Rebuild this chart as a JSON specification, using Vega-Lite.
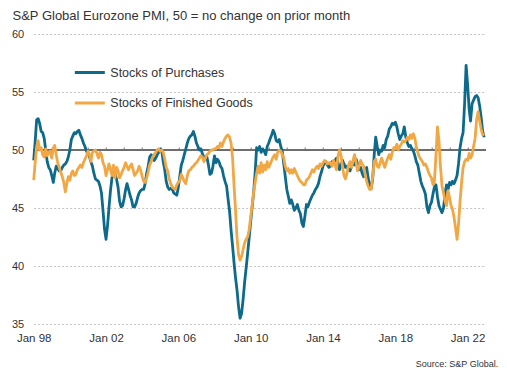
{
"$schema": "https://vega.github.io/schema/vega-lite/v6.json",
"width": 452, "height": 290,
"autosize": {"type": "none"},
"padding": {"left": 33.7, "top": 34, "right": 21.3, "bottom": 48},
"background": "white",
"config": {"view": {"stroke": null}, "font": "Liberation Sans"},
"data": {"values": [
{"date":"1998-01","purchases":49.1,"finished":47.4},{"date":"1998-02","purchases":50.8,"finished":49.0},{"date":"1998-03","purchases":52.6,"finished":50.3},{"date":"1998-04","purchases":52.7,"finished":50.8},{"date":"1998-05","purchases":52.3,"finished":50.0},{"date":"1998-06","purchases":51.6,"finished":50.2},{"date":"1998-07","purchases":51.5,"finished":49.6},{"date":"1998-08","purchases":51.0,"finished":49.4},{"date":"1998-09","purchases":50.0,"finished":50.1},{"date":"1998-10","purchases":49.0,"finished":49.5},{"date":"1998-11","purchases":48.5,"finished":49.8},{"date":"1998-12","purchases":48.3,"finished":49.9},
{"date":"1999-01","purchases":47.8,"finished":49.3},{"date":"1999-02","purchases":47.2,"finished":50.1},{"date":"1999-03","purchases":48.0,"finished":50.4},{"date":"1999-04","purchases":48.6,"finished":49.6},{"date":"1999-05","purchases":48.4,"finished":48.9},{"date":"1999-06","purchases":48.2,"finished":48.5},{"date":"1999-07","purchases":48.2,"finished":48.1},{"date":"1999-08","purchases":48.5,"finished":47.7},{"date":"1999-09","purchases":48.7,"finished":47.2},{"date":"1999-10","purchases":48.8,"finished":46.4},{"date":"1999-11","purchases":49.0,"finished":47.1},{"date":"1999-12","purchases":49.4,"finished":47.7},
{"date":"2000-01","purchases":50.0,"finished":47.4},{"date":"2000-02","purchases":50.9,"finished":48.0},{"date":"2000-03","purchases":51.2,"finished":48.2},{"date":"2000-04","purchases":51.5,"finished":47.8},{"date":"2000-05","purchases":51.4,"finished":47.9},{"date":"2000-06","purchases":51.6,"finished":48.3},{"date":"2000-07","purchases":51.7,"finished":48.5},{"date":"2000-08","purchases":51.3,"finished":48.7},{"date":"2000-09","purchases":51.0,"finished":48.5},{"date":"2000-10","purchases":50.6,"finished":48.9},{"date":"2000-11","purchases":50.3,"finished":49.2},{"date":"2000-12","purchases":49.9,"finished":49.5},
{"date":"2001-01","purchases":49.7,"finished":49.9},{"date":"2001-02","purchases":49.4,"finished":49.6},{"date":"2001-03","purchases":49.0,"finished":49.0},{"date":"2001-04","purchases":48.6,"finished":49.8},{"date":"2001-05","purchases":48.0,"finished":49.9},{"date":"2001-06","purchases":47.5,"finished":50.0},{"date":"2001-07","purchases":47.4,"finished":49.7},{"date":"2001-08","purchases":47.3,"finished":49.3},{"date":"2001-09","purchases":46.9,"finished":49.8},{"date":"2001-10","purchases":46.3,"finished":49.6},{"date":"2001-11","purchases":44.8,"finished":48.9},{"date":"2001-12","purchases":43.2,"finished":48.6},
{"date":"2002-01","purchases":42.3,"finished":47.8},{"date":"2002-02","purchases":43.5,"finished":48.3},{"date":"2002-03","purchases":45.0,"finished":48.8},{"date":"2002-04","purchases":46.5,"finished":48.3},{"date":"2002-05","purchases":47.6,"finished":47.8},{"date":"2002-06","purchases":48.2,"finished":48.7},{"date":"2002-07","purchases":48.0,"finished":47.6},{"date":"2002-08","purchases":47.5,"finished":48.5},{"date":"2002-09","purchases":46.8,"finished":48.2},{"date":"2002-10","purchases":45.6,"finished":47.6},{"date":"2002-11","purchases":45.1,"finished":47.9},{"date":"2002-12","purchases":45.2,"finished":48.2},
{"date":"2003-01","purchases":45.8,"finished":48.5},{"date":"2003-02","purchases":46.6,"finished":48.9},{"date":"2003-03","purchases":47.1,"finished":48.6},{"date":"2003-04","purchases":46.6,"finished":48.3},{"date":"2003-05","purchases":46.1,"finished":48.6},{"date":"2003-06","purchases":45.7,"finished":48.8},{"date":"2003-07","purchases":45.1,"finished":48.3},{"date":"2003-08","purchases":45.1,"finished":47.8},{"date":"2003-09","purchases":45.4,"finished":48.0},{"date":"2003-10","purchases":45.9,"finished":48.2},{"date":"2003-11","purchases":46.3,"finished":48.6},{"date":"2003-12","purchases":46.5,"finished":48.3},
{"date":"2004-01","purchases":46.6,"finished":47.7},{"date":"2004-02","purchases":46.6,"finished":47.3},{"date":"2004-03","purchases":47.1,"finished":47.2},{"date":"2004-04","purchases":48.0,"finished":47.6},{"date":"2004-05","purchases":48.6,"finished":48.1},{"date":"2004-06","purchases":49.4,"finished":48.7},{"date":"2004-07","purchases":49.6,"finished":49.0},{"date":"2004-08","purchases":49.4,"finished":49.4},{"date":"2004-09","purchases":49.1,"finished":49.6},{"date":"2004-10","purchases":49.3,"finished":49.8},{"date":"2004-11","purchases":49.6,"finished":50.0},{"date":"2004-12","purchases":49.8,"finished":50.1},
{"date":"2005-01","purchases":50.1,"finished":49.9},{"date":"2005-02","purchases":49.9,"finished":50.0},{"date":"2005-03","purchases":49.0,"finished":49.8},{"date":"2005-04","purchases":48.3,"finished":49.2},{"date":"2005-05","purchases":47.3,"finished":48.5},{"date":"2005-06","purchases":46.8,"finished":48.2},{"date":"2005-07","purchases":46.6,"finished":47.5},{"date":"2005-08","purchases":46.7,"finished":47.1},{"date":"2005-09","purchases":46.6,"finished":46.8},{"date":"2005-10","purchases":46.3,"finished":46.7},{"date":"2005-11","purchases":46.2,"finished":46.6},{"date":"2005-12","purchases":46.1,"finished":47.0},
{"date":"2006-01","purchases":46.8,"finished":47.2},{"date":"2006-02","purchases":47.8,"finished":47.4},{"date":"2006-03","purchases":48.7,"finished":47.9},{"date":"2006-04","purchases":49.1,"finished":47.6},{"date":"2006-05","purchases":49.6,"finished":47.3},{"date":"2006-06","purchases":50.1,"finished":47.1},{"date":"2006-07","purchases":50.6,"finished":47.8},{"date":"2006-08","purchases":51.0,"finished":48.2},{"date":"2006-09","purchases":51.2,"finished":48.3},{"date":"2006-10","purchases":51.3,"finished":48.5},{"date":"2006-11","purchases":51.6,"finished":48.6},{"date":"2006-12","purchases":51.2,"finished":48.8},
{"date":"2007-01","purchases":50.6,"finished":48.9},{"date":"2007-02","purchases":50.3,"finished":49.1},{"date":"2007-03","purchases":50.0,"finished":49.3},{"date":"2007-04","purchases":50.1,"finished":49.5},{"date":"2007-05","purchases":49.7,"finished":49.4},{"date":"2007-06","purchases":49.4,"finished":49.0},{"date":"2007-07","purchases":49.2,"finished":49.3},{"date":"2007-08","purchases":49.4,"finished":49.6},{"date":"2007-09","purchases":48.7,"finished":49.7},{"date":"2007-10","purchases":47.9,"finished":49.9},{"date":"2007-11","purchases":48.0,"finished":50.0},{"date":"2007-12","purchases":48.6,"finished":50.0},
{"date":"2008-01","purchases":49.5,"finished":50.1},{"date":"2008-02","purchases":48.9,"finished":50.1},{"date":"2008-03","purchases":49.2,"finished":50.3},{"date":"2008-04","purchases":49.0,"finished":50.2},{"date":"2008-05","purchases":48.6,"finished":50.6},{"date":"2008-06","purchases":48.4,"finished":50.3},{"date":"2008-07","purchases":47.8,"finished":50.7},{"date":"2008-08","purchases":47.3,"finished":51.0},{"date":"2008-09","purchases":46.9,"finished":51.2},{"date":"2008-10","purchases":45.8,"finished":51.3},{"date":"2008-11","purchases":44.7,"finished":51.1},{"date":"2008-12","purchases":43.1,"finished":50.6},
{"date":"2009-01","purchases":41.7,"finished":49.3},{"date":"2009-02","purchases":40.2,"finished":46.8},{"date":"2009-03","purchases":39.0,"finished":44.8},{"date":"2009-04","purchases":37.9,"finished":42.4},{"date":"2009-05","purchases":36.5,"finished":41.0},{"date":"2009-06","purchases":35.5,"finished":40.5},{"date":"2009-07","purchases":35.9,"finished":40.8},{"date":"2009-08","purchases":37.1,"finished":41.4},{"date":"2009-09","purchases":38.6,"finished":42.0},{"date":"2009-10","purchases":39.8,"finished":42.3},{"date":"2009-11","purchases":41.1,"finished":42.5},{"date":"2009-12","purchases":42.4,"finished":43.1},
{"date":"2010-01","purchases":43.8,"finished":44.2},{"date":"2010-02","purchases":45.1,"finished":45.3},{"date":"2010-03","purchases":46.3,"finished":46.3},{"date":"2010-04","purchases":48.0,"finished":47.2},{"date":"2010-05","purchases":50.2,"finished":48.0},{"date":"2010-06","purchases":50.0,"finished":48.6},{"date":"2010-07","purchases":50.3,"finished":48.0},{"date":"2010-08","purchases":49.8,"finished":48.9},{"date":"2010-09","purchases":50.1,"finished":48.1},{"date":"2010-10","purchases":49.9,"finished":48.7},{"date":"2010-11","purchases":49.6,"finished":48.3},{"date":"2010-12","purchases":50.3,"finished":49.0},
{"date":"2011-01","purchases":50.6,"finished":48.5},{"date":"2011-02","purchases":51.0,"finished":48.8},{"date":"2011-03","purchases":51.3,"finished":49.1},{"date":"2011-04","purchases":51.7,"finished":49.4},{"date":"2011-05","purchases":51.4,"finished":49.6},{"date":"2011-06","purchases":50.8,"finished":49.2},{"date":"2011-07","purchases":50.7,"finished":49.8},{"date":"2011-08","purchases":50.9,"finished":50.0},{"date":"2011-09","purchases":50.3,"finished":49.9},{"date":"2011-10","purchases":49.9,"finished":49.6},{"date":"2011-11","purchases":48.8,"finished":49.3},{"date":"2011-12","purchases":47.7,"finished":48.6},
{"date":"2012-01","purchases":46.6,"finished":48.2},{"date":"2012-02","purchases":46.0,"finished":48.4},{"date":"2012-03","purchases":45.4,"finished":48.0},{"date":"2012-04","purchases":45.7,"finished":48.3},{"date":"2012-05","purchases":45.3,"finished":48.0},{"date":"2012-06","purchases":44.8,"finished":48.4},{"date":"2012-07","purchases":45.0,"finished":48.1},{"date":"2012-08","purchases":45.3,"finished":47.8},{"date":"2012-09","purchases":44.8,"finished":47.5},{"date":"2012-10","purchases":44.5,"finished":47.3},{"date":"2012-11","purchases":43.7,"finished":47.2},{"date":"2012-12","purchases":43.4,"finished":47.0},
{"date":"2013-01","purchases":44.3,"finished":47.0},{"date":"2013-02","purchases":45.3,"finished":47.4},{"date":"2013-03","purchases":45.1,"finished":47.5},{"date":"2013-04","purchases":45.5,"finished":47.7},{"date":"2013-05","purchases":45.8,"finished":48.0},{"date":"2013-06","purchases":46.1,"finished":48.3},{"date":"2013-07","purchases":46.3,"finished":48.1},{"date":"2013-08","purchases":46.6,"finished":48.4},{"date":"2013-09","purchases":46.8,"finished":48.6},{"date":"2013-10","purchases":47.1,"finished":48.4},{"date":"2013-11","purchases":47.7,"finished":48.8},{"date":"2013-12","purchases":48.1,"finished":48.6},
{"date":"2014-01","purchases":48.6,"finished":48.9},{"date":"2014-02","purchases":48.9,"finished":49.1},{"date":"2014-03","purchases":49.0,"finished":49.0},{"date":"2014-04","purchases":48.7,"finished":48.8},{"date":"2014-05","purchases":48.5,"finished":48.9},{"date":"2014-06","purchases":48.6,"finished":48.9},{"date":"2014-07","purchases":49.0,"finished":48.6},{"date":"2014-08","purchases":48.9,"finished":49.1},{"date":"2014-09","purchases":49.1,"finished":48.7},{"date":"2014-10","purchases":49.3,"finished":48.3},{"date":"2014-11","purchases":48.9,"finished":49.5},{"date":"2014-12","purchases":48.3,"finished":50.0},
{"date":"2015-01","purchases":48.7,"finished":49.5},{"date":"2015-02","purchases":49.1,"finished":48.5},{"date":"2015-03","purchases":48.8,"finished":47.8},{"date":"2015-04","purchases":48.5,"finished":47.5},{"date":"2015-05","purchases":48.6,"finished":48.0},{"date":"2015-06","purchases":48.3,"finished":48.7},{"date":"2015-07","purchases":48.2,"finished":49.0},{"date":"2015-08","purchases":48.6,"finished":48.5},{"date":"2015-09","purchases":48.9,"finished":49.1},{"date":"2015-10","purchases":48.7,"finished":49.6},{"date":"2015-11","purchases":49.2,"finished":48.9},{"date":"2015-12","purchases":48.8,"finished":48.2},
{"date":"2016-01","purchases":48.3,"finished":48.6},{"date":"2016-02","purchases":48.5,"finished":49.1},{"date":"2016-03","purchases":48.0,"finished":48.8},{"date":"2016-04","purchases":47.7,"finished":48.6},{"date":"2016-05","purchases":48.3,"finished":47.9},{"date":"2016-06","purchases":48.5,"finished":47.3},{"date":"2016-07","purchases":47.6,"finished":46.9},{"date":"2016-08","purchases":47.0,"finished":46.6},{"date":"2016-09","purchases":46.7,"finished":46.6},{"date":"2016-10","purchases":47.5,"finished":47.7},{"date":"2016-11","purchases":49.6,"finished":49.0},{"date":"2016-12","purchases":51.1,"finished":49.2},
{"date":"2017-01","purchases":50.3,"finished":48.6},{"date":"2017-02","purchases":49.6,"finished":48.5},{"date":"2017-03","purchases":50.0,"finished":48.9},{"date":"2017-04","purchases":49.9,"finished":49.3},{"date":"2017-05","purchases":50.4,"finished":48.9},{"date":"2017-06","purchases":50.2,"finished":48.5},{"date":"2017-07","purchases":50.9,"finished":48.9},{"date":"2017-08","purchases":51.2,"finished":49.3},{"date":"2017-09","purchases":51.8,"finished":49.6},{"date":"2017-10","purchases":52.0,"finished":49.2},{"date":"2017-11","purchases":52.3,"finished":49.8},{"date":"2017-12","purchases":52.2,"finished":50.2},
{"date":"2018-01","purchases":52.4,"finished":50.1},{"date":"2018-02","purchases":52.0,"finished":50.5},{"date":"2018-03","purchases":51.4,"finished":50.0},{"date":"2018-04","purchases":50.9,"finished":50.3},{"date":"2018-05","purchases":51.2,"finished":50.5},{"date":"2018-06","purchases":51.4,"finished":50.8},{"date":"2018-07","purchases":52.0,"finished":50.7},{"date":"2018-08","purchases":51.1,"finished":50.8},{"date":"2018-09","purchases":50.6,"finished":51.1},{"date":"2018-10","purchases":50.3,"finished":50.9},{"date":"2018-11","purchases":50.4,"finished":51.3},{"date":"2018-12","purchases":50.1,"finished":51.0},
{"date":"2019-01","purchases":49.9,"finished":51.4},{"date":"2019-02","purchases":49.5,"finished":51.0},{"date":"2019-03","purchases":49.0,"finished":50.3},{"date":"2019-04","purchases":48.7,"finished":49.8},{"date":"2019-05","purchases":48.0,"finished":49.4},{"date":"2019-06","purchases":47.3,"finished":49.2},{"date":"2019-07","purchases":46.9,"finished":49.0},{"date":"2019-08","purchases":46.6,"finished":48.7},{"date":"2019-09","purchases":46.2,"finished":48.8},{"date":"2019-10","purchases":45.1,"finished":48.5},{"date":"2019-11","purchases":44.6,"finished":48.1},{"date":"2019-12","purchases":45.2,"finished":47.8},
{"date":"2020-01","purchases":45.5,"finished":47.6},{"date":"2020-02","purchases":46.2,"finished":47.0},{"date":"2020-03","purchases":46.8,"finished":47.3},{"date":"2020-04","purchases":47.0,"finished":49.5},{"date":"2020-05","purchases":46.0,"finished":52.0},{"date":"2020-06","purchases":45.2,"finished":50.8},{"date":"2020-07","purchases":44.9,"finished":48.6},{"date":"2020-08","purchases":44.6,"finished":46.9},{"date":"2020-09","purchases":45.0,"finished":46.3},{"date":"2020-10","purchases":46.2,"finished":45.6},{"date":"2020-11","purchases":47.0,"finished":45.2},{"date":"2020-12","purchases":46.6,"finished":46.5},
{"date":"2021-01","purchases":47.2,"finished":45.9},{"date":"2021-02","purchases":47.0,"finished":45.2},{"date":"2021-03","purchases":47.3,"finished":44.9},{"date":"2021-04","purchases":47.1,"finished":44.2},{"date":"2021-05","purchases":47.4,"finished":43.3},{"date":"2021-06","purchases":47.8,"finished":42.3},{"date":"2021-07","purchases":48.8,"finished":43.6},{"date":"2021-08","purchases":50.2,"finished":45.6},{"date":"2021-09","purchases":51.0,"finished":47.2},{"date":"2021-10","purchases":51.5,"finished":48.5},{"date":"2021-11","purchases":54.0,"finished":49.0},{"date":"2021-12","purchases":57.3,"finished":49.2},
{"date":"2022-01","purchases":55.6,"finished":49.1},{"date":"2022-02","purchases":53.5,"finished":49.7},{"date":"2022-03","purchases":52.5,"finished":49.3},{"date":"2022-04","purchases":54.0,"finished":49.6},{"date":"2022-05","purchases":54.3,"finished":50.3},{"date":"2022-06","purchases":54.6,"finished":51.0},{"date":"2022-07","purchases":54.7,"finished":52.6},{"date":"2022-08","purchases":54.5,"finished":53.3},{"date":"2022-09","purchases":53.8,"finished":52.5},{"date":"2022-10","purchases":52.8,"finished":51.8},{"date":"2022-11","purchases":51.6,"finished":51.3},{"date":"2022-12","purchases":51.1,"finished":51.4}
]},
"resolve": {"axis": {"x": "independent"}},
"layer": [
{
"mark": {"type": "rule", "color": "#6e6e6e", "strokeWidth": 1},
"encoding": {
"x": {"datum": {"year": 1998, "month": 1, "date": 1, "utc": true}, "type": "temporal",
"axis": {"orient": "top", "offset": -116, "labels": false, "domain": false, "grid": false, "ticks": true, "tickSize": 3, "tickColor": "#707070", "tickWidth": 1, "title": null,
"values": [{"year": 1999, "month": 1, "date": 1, "utc": true}, {"year": 2000, "month": 1, "date": 1, "utc": true}, {"year": 2001, "month": 1, "date": 1, "utc": true}, {"year": 2002, "month": 1, "date": 1, "utc": true}, {"year": 2003, "month": 1, "date": 1, "utc": true}, {"year": 2004, "month": 1, "date": 1, "utc": true}, {"year": 2005, "month": 1, "date": 1, "utc": true}, {"year": 2006, "month": 1, "date": 1, "utc": true}, {"year": 2007, "month": 1, "date": 1, "utc": true}, {"year": 2008, "month": 1, "date": 1, "utc": true}, {"year": 2009, "month": 1, "date": 1, "utc": true}, {"year": 2010, "month": 1, "date": 1, "utc": true}, {"year": 2011, "month": 1, "date": 1, "utc": true}, {"year": 2012, "month": 1, "date": 1, "utc": true}, {"year": 2013, "month": 1, "date": 1, "utc": true}, {"year": 2014, "month": 1, "date": 1, "utc": true}, {"year": 2015, "month": 1, "date": 1, "utc": true}, {"year": 2016, "month": 1, "date": 1, "utc": true}, {"year": 2017, "month": 1, "date": 1, "utc": true}, {"year": 2018, "month": 1, "date": 1, "utc": true}, {"year": 2019, "month": 1, "date": 1, "utc": true}, {"year": 2020, "month": 1, "date": 1, "utc": true}, {"year": 2021, "month": 1, "date": 1, "utc": true}, {"year": 2022, "month": 1, "date": 1, "utc": true}]}},
"x2": {"datum": {"year": 2023, "month": 1, "date": 1, "utc": true}},
"y": {"datum": 50, "type": "quantitative", "scale": {"domain": [35, 60], "nice": false, "zero": false},
"axis": {"values": [35, 40, 45, 50, 55, 60], "labelFontSize": 11, "labelColor": "#333333", "labelPadding": 10, "ticks": false, "tickSize": 0, "domain": false, "grid": true, "gridColor": "#c4c4c4", "gridDash": [2, 2], "gridWidth": 1,
"title": "S&P Global Eurozone PMI, 50 = no change on prior month", "titleAngle": 0, "titleX": -21.7, "titleY": -14.5, "titleAlign": "left", "titleBaseline": "alphabetic", "titleFontSize": 13, "titleFontWeight": "normal", "titleColor": "#333333"}}
}
},
{
"transform": [{"fold": ["purchases", "finished"], "as": ["series", "value"]}],
"mark": {"type": "line", "strokeWidth": 2.8, "strokeJoin": "round"},
"encoding": {
"x": {"field": "date", "type": "temporal",
"scale": {"type": "utc", "domain": [{"year": 1998, "month": 1, "date": 1, "utc": true}, {"year": 2023, "month": 1, "date": 1, "utc": true}]},
"axis": {"orient": "bottom", "format": "%b %y", "labelFontSize": 11.5, "labelColor": "#333333", "ticks": false, "tickSize": 0, "labelPadding": 8, "domain": false, "grid": false, "labelFlush": false, "labelOverlap": false,
"values": [{"year": 1998, "month": 1, "date": 1, "utc": true}, {"year": 2002, "month": 1, "date": 1, "utc": true}, {"year": 2006, "month": 1, "date": 1, "utc": true}, {"year": 2010, "month": 1, "date": 1, "utc": true}, {"year": 2014, "month": 1, "date": 1, "utc": true}, {"year": 2018, "month": 1, "date": 1, "utc": true}, {"year": 2022, "month": 1, "date": 1, "utc": true}],
"title": "Source: S&P Global.", "titleFontSize": 9, "titleFontWeight": "normal", "titleColor": "#333333", "titleX": 464, "titleY": 42.5, "titleAlign": "right", "titleBaseline": "alphabetic", "titleAnchor": null}},
"y": {"field": "value", "type": "quantitative", "scale": {"domain": [35, 60], "nice": false, "zero": false},
"axis": {"values": [35, 40, 45, 50, 55, 60], "labelFontSize": 11, "labelColor": "#333333", "labelPadding": 10, "ticks": false, "tickSize": 0, "domain": false, "grid": true, "gridColor": "#c4c4c4", "gridDash": [2, 2], "gridWidth": 1,
"title": "S&P Global Eurozone PMI, 50 = no change on prior month", "titleAngle": 0, "titleX": -21.7, "titleY": -14.5, "titleAlign": "left", "titleBaseline": "alphabetic", "titleFontSize": 13, "titleFontWeight": "normal", "titleColor": "#333333"}},
"color": {"field": "series", "type": "nominal",
"scale": {"domain": ["purchases", "finished"], "range": ["#0d6a8b", "#f2a745"]},
"legend": {"orient": "none", "legendX": 39.6, "legendY": 22, "title": null, "symbolType": "stroke", "symbolSize": 900, "symbolStrokeWidth": 3, "labelFontSize": 12.5, "labelColor": "#333333", "labelOffset": 4, "rowPadding": 7.5, "padding": 0,
"labelExpr": "datum.label == 'purchases' ? 'Stocks of Purchases' : 'Stocks of Finished Goods'"}}
}
}
]
}
